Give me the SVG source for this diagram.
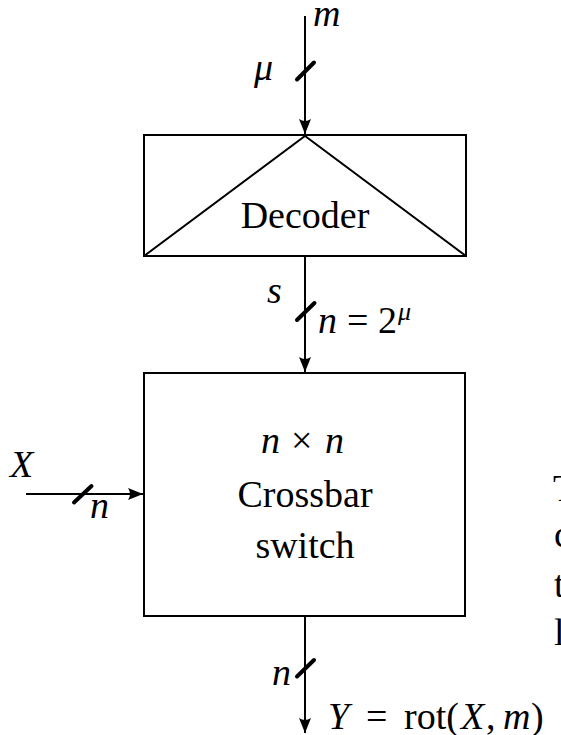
<svg xmlns="http://www.w3.org/2000/svg" width="561" height="735" viewBox="0 0 561 735">
<style>
.ln{stroke:#000;stroke-width:2;fill:none}
.sl{stroke:#000;stroke-width:4;stroke-linecap:round;fill:none}
.box{stroke:#000;stroke-width:2;fill:#fff}
.t{font-family:"Liberation Serif","Times New Roman",serif;font-size:38px;fill:#000}
.i{font-style:italic}
</style>
<defs>
<marker id="ah" markerUnits="userSpaceOnUse" markerWidth="20" markerHeight="14" viewBox="-16 -7 18 14" refX="0" refY="0" orient="auto">
<path d="M0,0 L-15,-6 Q-11,0 -15,6 Z" fill="#000"/>
</marker>
</defs>
<rect width="561" height="735" fill="#fff"/>
<g id="connectors">
<line class="ln" x1="305" y1="16" x2="305" y2="134" marker-end="url(#ah)"/>
<line class="sl" x1="297" y1="79.5" x2="314" y2="62.5"/>
<line class="ln" x1="305" y1="256" x2="305" y2="372" marker-end="url(#ah)"/>
<line class="sl" x1="297" y1="320" x2="314.5" y2="303"/>
<line class="ln" x1="26" y1="494" x2="143" y2="494" marker-end="url(#ah)"/>
<line class="sl" x1="74" y1="502.5" x2="91.5" y2="486"/>
<line class="ln" x1="305" y1="617" x2="305" y2="733" marker-end="url(#ah)"/>
<line class="sl" x1="297" y1="676.5" x2="314" y2="660"/>
</g>
<g id="labels">
<text class="t i" x="313" y="26">m</text>
<text class="t i" x="254" y="80">μ</text>
<text class="t i" x="267" y="303">s</text>
<text class="t"><tspan class="i" x="318" y="333">n</tspan><tspan x="347" y="333">=</tspan><tspan x="378" y="333">2</tspan><tspan class="i" font-size="26" x="398" y="320">μ</tspan></text>
<text class="t i" x="10" y="477">X</text>
<text class="t i" x="90" y="518">n</text>
<text class="t i" x="272" y="685">n</text>
<text class="t"><tspan class="i" x="328" y="729">Y</tspan><tspan x="366" y="729">=</tspan><tspan x="404" y="729">rot(</tspan><tspan class="i" x="461" y="729">X</tspan><tspan x="486" y="729">,</tspan><tspan class="i" x="503" y="729">m</tspan><tspan x="531" y="729">)</tspan></text>
</g>
<g id="decoder">
<rect class="box" x="144" y="135" width="322" height="121"/>
<polyline class="ln" points="144,256 305,136 466,256"/>
<text class="t" x="305" y="228" text-anchor="middle">Decoder</text>
</g>
<g id="crossbar">
<rect class="box" x="144" y="373" width="321" height="243"/>
<text class="t"><tspan class="i" x="261" y="453">n</tspan><tspan x="291" y="453">×</tspan><tspan class="i" x="325" y="453">n</tspan></text>
<text class="t" x="305" y="507" text-anchor="middle">Crossbar</text>
<text class="t" x="305" y="558" text-anchor="middle">switch</text>
</g>
<g id="sidetext">
<text class="t" x="553" y="501">T</text>
<text class="t" x="554" y="547">c</text>
<text class="t" x="554" y="597">t</text>
<text class="t" x="554" y="645">l</text>
</g>
</svg>
